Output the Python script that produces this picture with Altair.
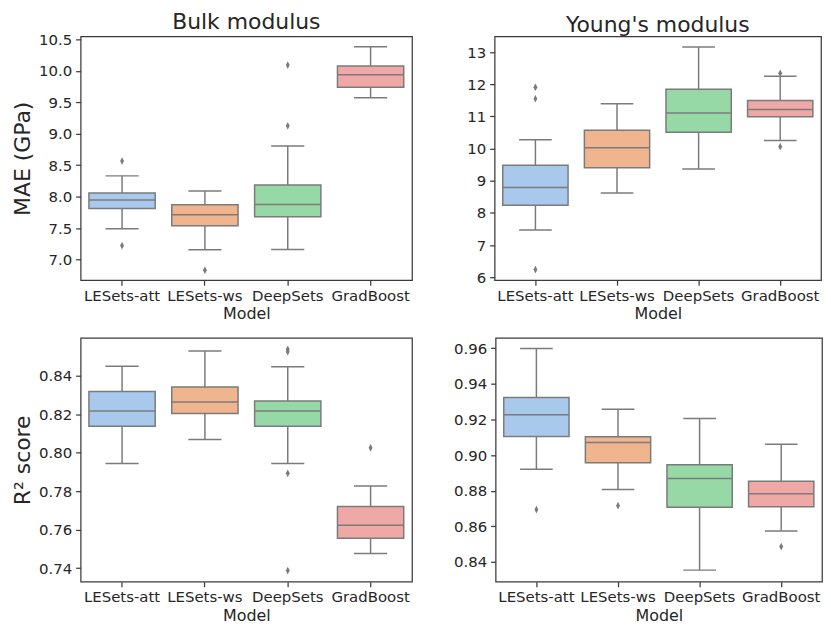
import altair as alt
import pandas as pd

models = ["LESets-att", "LESets-ws", "DeepSets", "GradBoost"]
colors = ["#a8c8ec", "#f0b58f", "#96d9a6", "#f0a8a6"]

# Bulk modulus - MAE (GPa)
bulk_mae_low = [7.49, 7.156, 7.16, 9.574]
bulk_mae_q1 = [7.81, 7.536, 7.68, 9.741]
bulk_mae_med = [7.947, 7.71, 7.874, 9.938]
bulk_mae_q3 = [8.056, 7.87, 8.186, 10.079]
bulk_mae_high = [8.33, 8.09, 8.805, 10.386]
bulk_mae_out = [[8.565, 7.22], [6.83], [10.094, 9.127], []]

# Young's modulus - MAE (GPa)
young_mae_low = [7.468, 8.623, 9.363, 10.254]
young_mae_q1 = [8.238, 9.403, 10.508, 10.994]
young_mae_med = [8.795, 10.03, 11.105, 11.217]
young_mae_q3 = [9.484, 10.568, 11.845, 11.5]
young_mae_high = [10.275, 11.399, 13.162, 12.25]
young_mae_out = [[11.906, 11.551, 6.24], [], [], [12.341, 10.062]]

# Bulk modulus - R2
bulk_r2_low = [0.7943, 0.8068, 0.7943, 0.7476]
bulk_r2_q1 = [0.8137, 0.8203, 0.8137, 0.7555]
bulk_r2_med = [0.8216, 0.8263, 0.8216, 0.7622]
bulk_r2_q3 = [0.8317, 0.8341, 0.8268, 0.7720]
bulk_r2_high = [0.8449, 0.8528, 0.8446, 0.7826]
bulk_r2_out = [[], [], [0.8537, 0.8524, 0.7892, 0.7387], [0.8025]]

# Young's modulus - R2
young_r2_low = [0.892, 0.8807, 0.8354, 0.8574]
young_r2_q1 = [0.9105, 0.8957, 0.8707, 0.8710]
young_r2_med = [0.9227, 0.907, 0.8868, 0.8783]
young_r2_q3 = [0.9324, 0.9103, 0.8946, 0.8853]
young_r2_high = [0.9598, 0.9258, 0.9205, 0.9061]
young_r2_out = [[0.8694], [0.8716], [], [0.8486]]

GRAY = "#7b7b7b"
FONT = "DejaVu Sans"
TXT = "#262626"
DIAMOND = "M0,-1L0.5,0L0,1L-0.5,0Z"


def panel(low, q1, med, q3, high, out, domain, ticks, fmt, ytitle, title, width, height):
    box = pd.DataFrame({"model": models, "low": low, "q1": q1, "med": med, "q3": q3, "high": high})
    outdf = pd.DataFrame([{"model": m, "v": v} for m, vs in zip(models, out) for v in vs])
    band = width / 4.0
    x = alt.X("model:N", sort=models,
              scale=alt.Scale(domain=models, paddingInner=0, paddingOuter=0),
              axis=alt.Axis(title="Model", labelAngle=0, labelPadding=3))
    yscale = alt.Scale(domain=domain, nice=False, zero=False)
    yaxis = alt.Axis(values=ticks, format=fmt, title=ytitle, labelOverlap=False,
                     labelPadding=4, tickCount=len(ticks))

    def Y(field):
        return alt.Y(field, scale=yscale, axis=yaxis)

    base = alt.Chart(box)
    whisk = base.mark_rule(color=GRAY, strokeWidth=1.5).encode(
        x=x, y=Y("low:Q"), y2="high:Q")
    boxes = base.mark_bar(width={"band": 0.8}, stroke=GRAY, strokeWidth=1.5, opacity=1).encode(
        x=x, y=Y("q1:Q"), y2="q3:Q",
        color=alt.Color("model:N", scale=alt.Scale(domain=models, range=colors), legend=None))
    medl = base.mark_tick(size=band * 0.8, thickness=1.5, color=GRAY, opacity=1).encode(x=x, y=Y("med:Q"))
    capl = base.mark_tick(size=band * 0.4, thickness=1.5, color=GRAY, opacity=1).encode(x=x, y=Y("low:Q"))
    caph = base.mark_tick(size=band * 0.4, thickness=1.5, color=GRAY, opacity=1).encode(x=x, y=Y("high:Q"))
    pts = alt.Chart(outdf).mark_point(shape=DIAMOND, filled=True, size=60, color=GRAY, opacity=1).encode(
        x=x, y=Y("v:Q"))
    layer = alt.layer(whisk, boxes, medl, capl, caph, pts)
    props = dict(width=width, height=height)
    if title:
        props["title"] = alt.TitleParams(title, fontSize=22, font=FONT, fontWeight="normal",
                                         color=TXT, frame="group", anchor="middle", offset=-1)
    return layer.properties(**props)


W1 = 333
W2 = 328
H = 245

tl = panel(bulk_mae_low, bulk_mae_q1, bulk_mae_med, bulk_mae_q3, bulk_mae_high, bulk_mae_out,
           [6.67, 10.55], [7.0, 7.5, 8.0, 8.5, 9.0, 9.5, 10.0, 10.5], ".1f", "MAE (GPa)",
           "Bulk modulus", W1, H)
tr = panel(young_mae_low, young_mae_q1, young_mae_med, young_mae_q3, young_mae_high, young_mae_out,
           [5.91, 13.49], [6, 7, 8, 9, 10, 11, 12, 13], "d", None,
           "Young's modulus", W2, H)
bl = panel(bulk_r2_low, bulk_r2_q1, bulk_r2_med, bulk_r2_q3, bulk_r2_high, bulk_r2_out,
           [0.7329, 0.8596], [0.74, 0.76, 0.78, 0.80, 0.82, 0.84], ".2f", "R² score",
           None, W1, H)
br = panel(young_r2_low, young_r2_q1, young_r2_med, young_r2_q3, young_r2_high, young_r2_out,
           [0.8289, 0.9658], [0.84, 0.86, 0.88, 0.90, 0.92, 0.94, 0.96], ".2f", None,
           None, W2, H)

top = alt.hconcat(tl, tr, spacing=53)
bottom = alt.hconcat(bl, br, spacing=39)
chart = alt.vconcat(top, bottom, spacing=14).properties(
    padding={"left": 2, "top": 0, "right": 0, "bottom": 0}
).configure_view(
    stroke="#3b3b3b", strokeWidth=1.25
).configure_axis(
    labelFont=FONT, labelFontSize=15, labelColor=TXT,
    titleFont=FONT, titleColor=TXT, titleFontWeight="normal",
    domain=False, tickColor="#3b3b3b", tickWidth=1.25, tickSize=5,
    grid=False
).configure_axisX(
    titleFontSize=16, titlePadding=3
).configure_axisY(
    titleFontSize=22, titlePadding=4, labelOverlap=False
)

chart.save("out.html", embed_options={"renderer": "svg", "actions": False})
